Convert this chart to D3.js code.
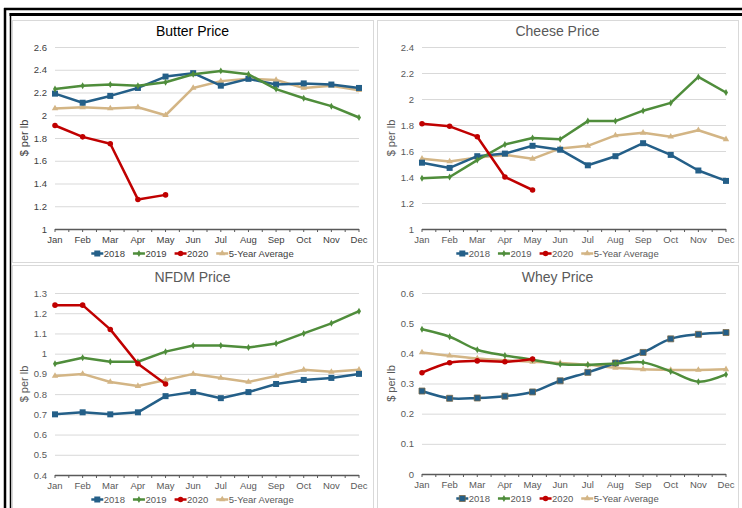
<!DOCTYPE html>
<meta charset="utf-8">
<style>
body { margin: 0; background: #fff; }
svg { display: block; font-family: "Liberation Sans", Arial, sans-serif; }
.grid line { stroke: #d9d9d9; stroke-width: 1px; }
.grid .domain { display: none; }
.line { fill: none; stroke-width: 2.5px; stroke-linejoin: round; }
</style>
<body>
<script src="https://d3js.org/d3.v7.min.js"></script>
<script>

// data (dollars per lb)
var months = ["Jan","Feb","Mar","Apr","May","Jun","Jul","Aug","Sep","Oct","Nov","Dec"];
var seriesNames = ["2018", "2019", "2020", "5-Year Average"];

var butter2018 = [2.19,2.11,2.17,2.24,2.34,2.37,2.26,2.32,2.27,2.28,2.27,2.24];
var butter2019 = [2.23,2.26,2.27,2.26,2.29,2.36,2.39,2.36,2.23,2.15,2.08,1.98];
var butter2020 = [1.91,1.81,1.75,1.26,1.30];
var butterAvg  = [2.06,2.07,2.06,2.07,2.00,2.24,2.30,2.32,2.31,2.24,2.26,2.22];
var butterTicks = [1,1.2,1.4,1.6,1.8,2,2.2,2.4,2.6];

var cheese2018 = [1.51,1.47,1.56,1.58,1.64,1.61,1.49,1.56,1.66,1.57,1.45,1.37];
var cheese2019 = [1.39,1.40,1.53,1.65,1.70,1.69,1.83,1.83,1.91,1.97,2.17,2.05];
var cheese2020 = [1.81,1.79,1.71,1.40,1.30];
var cheeseAvg  = [1.54,1.52,1.55,1.57,1.54,1.62,1.64,1.72,1.74,1.71,1.76,1.69];
var cheeseTicks = [1,1.2,1.4,1.6,1.8,2,2.2,2.4];

var nfdm2018 = [0.70,0.71,0.70,0.71,0.79,0.81,0.78,0.81,0.85,0.87,0.88,0.90];
var nfdm2019 = [0.95,0.98,0.96,0.96,1.01,1.04,1.04,1.03,1.05,1.10,1.15,1.21];
var nfdm2020 = [1.24,1.24,1.12,0.95,0.85];
var nfdmAvg  = [0.89,0.90,0.86,0.84,0.87,0.90,0.88,0.86,0.89,0.92,0.91,0.92];
var nfdmTicks = [0.4,0.5,0.6,0.7,0.8,0.9,1,1.1,1.2,1.3];

var whey2018 = [0.275,0.251,0.252,0.258,0.272,0.309,0.337,0.368,0.403,0.448,0.463,0.469];
var whey2019 = [0.480,0.455,0.412,0.393,0.379,0.364,0.362,0.366,0.370,0.340,0.306,0.330];
var whey2020 = [0.336,0.369,0.375,0.372,0.381];
var wheyAvg  = [0.403,0.392,0.383,0.377,0.372,0.368,0.362,0.352,0.347,0.345,0.345,0.347];
var wheyTicks = [0,0.1,0.2,0.3,0.4,0.5,0.6];

var colors = ["#245f88", "#4f8d3b", "#c00000", "#d3b585"];
var symbols = [d3.symbolSquare, d3.symbolDiamond, d3.symbolCircle, d3.symbolTriangle];
var symSizes = [36, 14, 24, 18];

var panels = [
  {title: "Butter Price", series: [butter2018, butter2019, butter2020, butterAvg], ticks: butterTicks,
   box: [12, 20, 361, 242], plot: [55, 359, 47, 229], ink: "#404040", head: "#000", smooth: false},
  {title: "Cheese Price", series: [cheese2018, cheese2019, cheese2020, cheeseAvg], ticks: cheeseTicks,
   box: [377, 20, 361, 242], plot: [422, 726, 47, 229], ink: "#595959", head: "#595959", smooth: false},
  {title: "NFDM Price", series: [nfdm2018, nfdm2019, nfdm2020, nfdmAvg], ticks: nfdmTicks,
   box: [12, 265, 361, 250], plot: [55, 359, 293, 475], ink: "#595959", head: "#595959", smooth: false},
  {title: "Whey Price", series: [whey2018, whey2019, whey2020, wheyAvg], ticks: wheyTicks,
   box: [377, 265, 361, 250], plot: [422, 726, 293, 474], ink: "#595959", head: "#595959", smooth: true}
];

var svg = d3.select("body").append("svg")
    .attr("width", 742)
    .attr("height", 508);

// black double frame
svg.append("line").attr("x1", 4).attr("x2", 742).attr("y1", 9).attr("y2", 9)
    .attr("stroke", "#000").attr("stroke-width", 2.5);
svg.append("line").attr("x1", 5).attr("x2", 5).attr("y1", 8).attr("y2", 508)
    .attr("stroke", "#000").attr("stroke-width", 2.5);
svg.append("line").attr("x1", 9.5).attr("x2", 742).attr("y1", 14.5).attr("y2", 14.5)
    .attr("stroke", "#000").attr("stroke-width", 3);
svg.append("line").attr("x1", 10.5).attr("x2", 10.5).attr("y1", 13).attr("y2", 508)
    .attr("stroke", "#000").attr("stroke-width", 1.5);

panels.forEach(function(p) {
  var g = svg.append("g");
  var left = p.plot[0], right = p.plot[1], top = p.plot[2], bottom = p.plot[3];

  // panel border
  g.append("rect")
      .attr("x", p.box[0] + 0.5).attr("y", p.box[1] + 0.5)
      .attr("width", p.box[2]).attr("height", p.box[3])
      .attr("fill", "#fff").attr("stroke", "#d9d9d9");

  var x = d3.scalePoint().domain(months).range([left, right]);
  var xi = d3.scaleLinear().domain([0, 11]).range([left, right]);
  var y = d3.scaleLinear().domain(d3.extent(p.ticks)).range([bottom, top]);

  // gridlines + y tick labels
  var ga = g.append("g")
      .attr("class", "grid")
      .attr("transform", "translate(" + left + ",0)")
      .call(d3.axisLeft(y).tickValues(p.ticks).tickSize(-(right - left)).tickPadding(8)
            .tickFormat(function(d) { return d3.format("~g")(d); }));
  ga.selectAll("text").attr("fill", p.ink).style("font-size", "9.5px");

  // x axis line with ticks at months and half months
  g.append("line").attr("x1", left).attr("x2", right).attr("y1", bottom + 0.5).attr("y2", bottom + 0.5)
      .attr("stroke", "#595959").attr("stroke-width", 1.5);
  g.selectAll(".xt").data(d3.range(0, 11.01, 0.5)).enter().append("line")
      .attr("x1", function(d) { return xi(d); }).attr("x2", function(d) { return xi(d); })
      .attr("y1", bottom).attr("y2", bottom + 3)
      .attr("stroke", "#595959");
  g.selectAll(".xl").data(months).enter().append("text")
      .attr("x", function(d) { return x(d); })
      .attr("y", bottom + 14)
      .attr("text-anchor", "middle")
      .attr("fill", p.ink)
      .style("font-size", "9.5px")
      .text(function(d) { return d; });

  // title
  g.append("text")
      .attr("x", p.box[0] + p.box[2] / 2)
      .attr("y", top - 11)
      .attr("text-anchor", "middle")
      .attr("fill", p.head)
      .style("font-size", "14px")
      .text(p.title);

  // y axis title
  g.append("text")
      .attr("transform", "translate(" + (left - 27) + "," + ((top + bottom) / 2) + ") rotate(-90)")
      .attr("text-anchor", "middle")
      .attr("fill", p.ink)
      .style("font-size", "11px")
      .text("$ per lb");

  var line = d3.line()
      .x(function(d, i) { return x(months[i]); })
      .y(function(d) { return y(d); })
      .curve(p.smooth ? d3.curveCatmullRom : d3.curveLinear);

  // draw avg first, then 2018, 2019, 2020 on top
  [3, 0, 1, 2].forEach(function(k) {
    var vals = p.series[k];
    g.append("path")
        .datum(vals)
        .attr("class", "line")
        .attr("stroke", colors[k])
        .attr("d", line);
    g.selectAll(".m" + k).data(vals).enter().append("path")
        .attr("transform", function(d, i) { return "translate(" + x(months[i]) + "," + y(d) + ")"; })
        .attr("d", d3.symbol().type(symbols[k]).size(symSizes[k]))
        .attr("fill", colors[k])
        .attr("stroke", (p.smooth && k == 0) ? "#7a6a4a" : "none")
        .attr("stroke-width", 0.8);
  });

  // legend
  var lg = g.append("g");
  var pos = 0;
  seriesNames.forEach(function(name, k) {
    var it = lg.append("g").attr("transform", "translate(" + pos + ",0)");
    it.append("line").attr("x1", 0).attr("x2", 12).attr("y1", -3.5).attr("y2", -3.5)
        .attr("stroke", colors[k]).attr("stroke-width", 2.5);
    it.append("path")
        .attr("transform", "translate(6,-3.5)")
        .attr("d", d3.symbol().type(symbols[k]).size(symSizes[k]))
        .attr("fill", colors[k])
        .attr("stroke", (p.smooth && k == 0) ? "#7a6a4a" : "none")
        .attr("stroke-width", 0.8);
    var t = it.append("text").attr("x", 12.5).attr("y", 0)
        .attr("fill", p.ink).style("font-size", "9.5px").text(name);
    pos += 12.5 + t.node().getComputedTextLength() + 8;
  });
  var lw = pos - 8;
  lg.attr("transform", "translate(" + (p.box[0] + p.box[2] / 2 - lw / 2) + "," + (bottom + 28) + ")");
});

</script>
</body>
